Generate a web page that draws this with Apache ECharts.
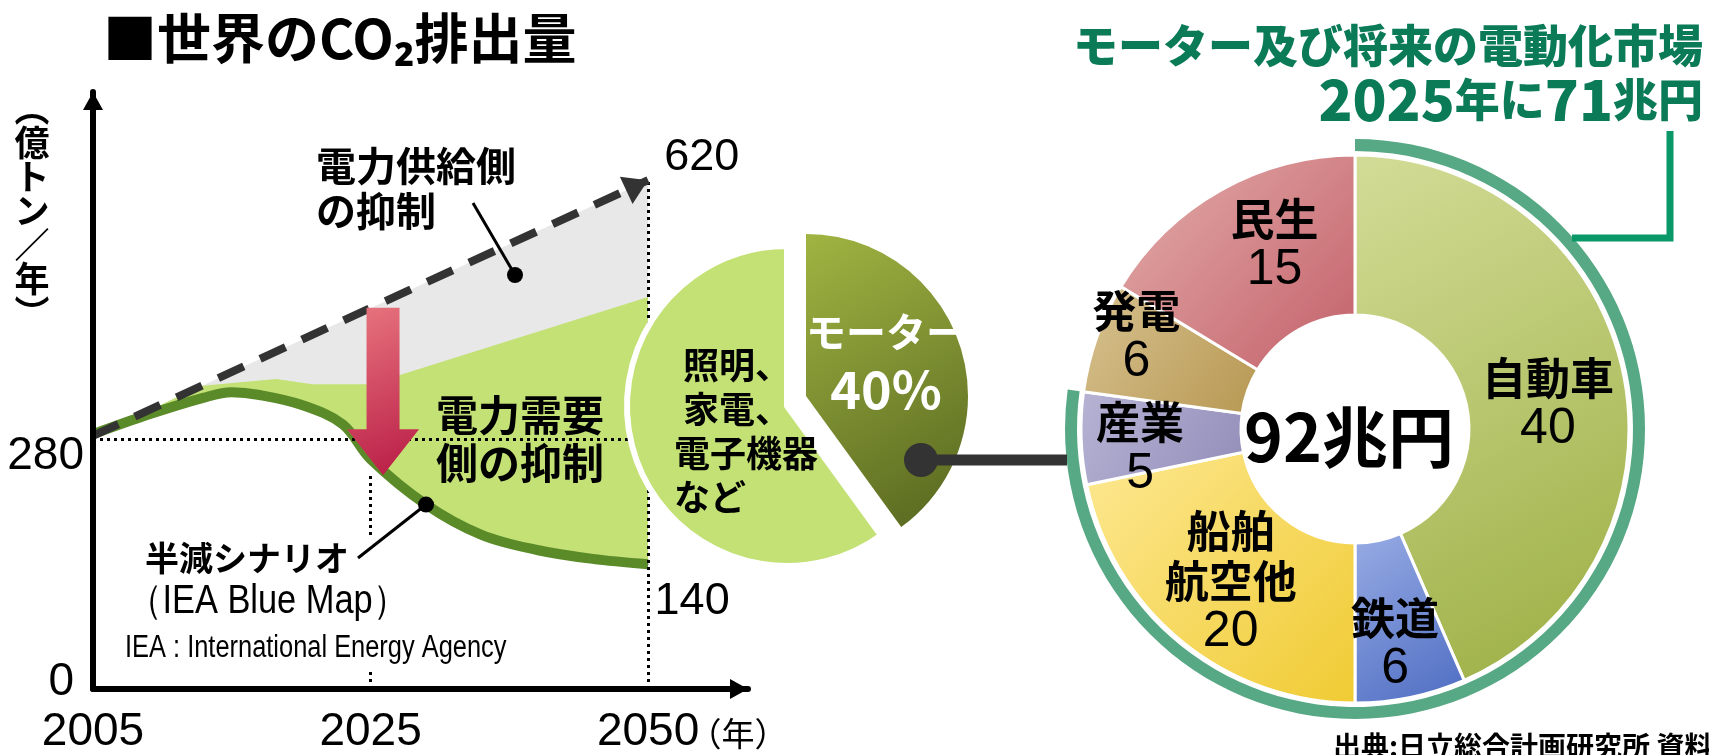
<!DOCTYPE html>
<html><head><meta charset="utf-8">
<script src="https://cdn.jsdelivr.net/npm/echarts@6/dist/echarts.min.js"></script>
<style>html,body{margin:0;padding:0;background:#fff}#c{width:1709px;height:755px}</style>
</head><body><div id="c"></div>
<script>
// ---------------- data ----------------
const yearLabels = ['2005', '2025', '2050'];
const yearPos = [0, 1, 2];                 // drawn with (almost) equal spacing in the source
const yTickValues = [0, 280];
// half-reduction scenario (IEA Blue Map)
const halfT = [0, 0.2, 0.4, 0.5, 0.6, 0.75, 0.9, 1.0, 1.2, 1.4, 1.6, 1.8, 2.0];
const halfV = [286, 308, 327, 333, 330, 319, 297, 258, 207, 173, 156, 146, 140];
// upper edge of demand-side reduction band
const demandT = [0, 0.2, 0.385, 0.66, 0.79, 1.0, 2.0];
const demandV = [286, 312, 340, 348, 342, 342, 440];
// business-as-usual trend (dashed)
const trendT = [0, 2.0];
const trendV = [284, 571];
const endValueLabels = ['620', '140'];
// red arrow (demand-side reduction) in data units
const arrowT = 1.045, arrowFromV = 428, arrowToV = 240;
// motor share pie
const shareNames = ['モーター', '照明、家電、電子機器など'];
const shareLines = ['照明、', '家電、', '電子機器', 'など'];
const shareValues = [40, 60];
// electrification market donut (兆円)
const marketNames = ['自動車', '鉄道', '船舶\n航空他', '産業', '発電', '民生'];
const marketValues = [40, 6, 20, 5, 6, 15];
const market2025 = [71, 21];
const marketTotalText = '92兆円';

// ---------------- styles ----------------
const LAT = "'Liberation Sans',Arial,sans-serif";
const JP = "'Noto Sans CJK JP','Noto Sans',sans-serif";
const grad = (a, b) => ({type:'linear', x:0, y:0, x2:1, y2:1, colorStops:[{offset:0, color:a}, {offset:1, color:b}]});
const marketColors = [['#d3dc97','#9bae42'], ['#98ace4','#4d6cc2'], ['#fde892','#f0cb33'], ['#b6b3d4','#928db9'], ['#d8c291','#b79852'], ['#e4aeaa','#c3606a']];
const marketLabelPad = [[30,0,0,0], [44,0,0,0], [0,0,0,0], [26,36,0,0], [0,66,52,0], [0,0,24,32]];
const CLEAR = 'rgba(0,0,0,0)';

const pairs = (ts, vs) => ts.map((t, i) => [t, vs[i]]);

const chart = echarts.init(document.getElementById('c'), null, {renderer:'canvas', width:1709, height:755});

const halfData = pairs(halfT, halfV).map((p, i, a) => i === a.length - 1 ? {
  value: p, symbol: 'circle', symbolSize: 1,
  label: {show: true, formatter: endValueLabels[1], position: 'right', distance: 6, offset: [0, 37],
          fontFamily: LAT, fontSize: 45, color: '#000'}
} : p);

const trendData = pairs(trendT, trendV).map((p, i, a) => i === a.length - 1 ? {
  value: p, symbol: 'triangle', symbolSize: [30, 24], symbolRotate: -65, symbolOffset: [-11, 5],
  label: {show: true, formatter: endValueLabels[0], position: 'right', distance: 10, offset: [0, -28],
          fontFamily: LAT, fontSize: 45, color: '#000'}
} : {value: p, symbol: 'none'});

const padTo = (s, n) => s + '　'.repeat(Math.max(0, n - s.length));
const shareText = shareLines.map(s => padTo(s, 4)).join('\n');

const option = {
  animation: false,
  textStyle: {fontFamily: JP},
  grid: {left: 93, right: 961, top: 92, bottom: 65},
  xAxis: {
    type: 'value', min: 0, max: 2.36, z: 10,
    axisLine: {show: true, lineStyle: {color: '#000', width: 6}, symbol: ['none', 'triangle'], symbolSize: [20, 18], symbolOffset: [0, -9]},
    axisTick: {show: false}, splitLine: {show: false},
    axisLabel: {customValues: yearPos, formatter: v => yearLabels[yearPos.indexOf(v)],
                fontFamily: LAT, fontSize: 46, lineHeight: 46, color: '#000', margin: 20}
  },
  yAxis: {
    type: 'value', min: 0, max: 670, z: 10,
    axisLine: {show: true, lineStyle: {color: '#000', width: 6}, symbol: ['none', 'triangle'], symbolSize: [20, 18], symbolOffset: [0, -9]},
    axisTick: {show: false}, splitLine: {show: false},
    axisLabel: {customValues: yTickValues, margin: 9,
      formatter: v => (v === 0 ? '{z|' : '{t|') + v + '}',
      rich: {
        z: {fontFamily: LAT, fontSize: 46, color: '#000', padding: [0, 10, 14, 0]},
        t: {fontFamily: LAT, fontSize: 46, color: '#000', padding: [34, 0, 0, 0]}
      }}
  },
  series: [
    { // gray: supply-side reduction band (down from trend)
      type: 'line', data: pairs(trendT, trendV), symbol: 'none', silent: true, z: 1,
      lineStyle: {width: 0}, areaStyle: {color: '#e8e8e8', opacity: 1},
      markLine: {
        silent: true, symbol: 'none', label: {show: false}, z: 5,
        lineStyle: {color: '#000', width: 3, type: [3, 4]},
        data: [
          [{coord: [yearPos[0], yTickValues[1]]}, {coord: [yearPos[2], yTickValues[1]]}],
          [{coord: [yearPos[1], 0]}, {coord: [yearPos[1], arrowToV]}],
          [{coord: [yearPos[2], 0]}, {coord: [yearPos[2], trendV[1]]}]
        ]
      }
    },
    { // light green: demand-side reduction band
      type: 'line', data: pairs(demandT, demandV), symbol: 'none', silent: true, z: 2,
      lineStyle: {width: 0}, areaStyle: {color: '#c3e174', opacity: 1}
    },
    { // half scenario
      type: 'line', data: halfData, symbol: 'none', smooth: 0.35, silent: true, z: 3,
      lineStyle: {color: '#5b8b29', width: 10}, areaStyle: {color: '#ffffff', opacity: 1}
    },
    { // BAU dashed trend
      type: 'line', data: trendData, silent: true, z: 6,
      lineStyle: {color: '#333', width: 8, type: [28, 18]}, itemStyle: {color: '#333'}
    },
    { // motor share pie – other uses (60 %)
      type: 'pie', center: [787, 406], radius: 160, startAngle: 90, clockwise: true,
      z: 8, silent: true, emphasis: {disabled: true}, labelLine: {show: false},
      label: {show: true, position: 'inside'},
      data: [
        {name: shareNames[0], value: shareValues[0], itemStyle: {color: CLEAR}, label: {show: false}},
        {name: shareNames[1], value: shareValues[1],
         itemStyle: {color: '#c3e174', borderColor: '#fff', borderWidth: 6},
         label: {formatter: shareText, color: '#000', fontFamily: JP, fontWeight: 'bold', fontSize: 36, lineHeight: 44,
                 padding: [0, 0, 0, 76]}}
      ]
    },
    { // motor share pie – motor slice, pulled out
      type: 'pie', center: [806, 396], radius: 162, startAngle: 90, clockwise: true,
      z: 8, silent: true, emphasis: {disabled: true}, labelLine: {show: false},
      label: {show: false},
      data: [
        {name: shareNames[0], value: shareValues[0], itemStyle: {color: grad('#a0b442', '#56661f')}},
        {name: shareNames[1], value: shareValues[1], itemStyle: {color: CLEAR}}
      ]
    },
    { // 2025 ring (71兆円)
      type: 'pie', center: [1355, 429], radius: [278, 290], startAngle: 90, z: 7, silent: true,
      emphasis: {disabled: true}, label: {show: false}, labelLine: {show: false},
      data: [{value: market2025[0], itemStyle: {color: '#57a884'}},
             {value: market2025[1], itemStyle: {color: CLEAR}}]
    },
    { // market donut
      type: 'pie', center: [1355, 429], radius: [114, 274], startAngle: 90, z: 8, silent: true,
      emphasis: {disabled: true}, labelLine: {show: false},
      label: {show: true, position: 'inside'},
      data: marketNames.map((n, i) => ({
        name: n, value: marketValues[i],
        itemStyle: {color: grad(marketColors[i][0], marketColors[i][1]), borderColor: '#fff', borderWidth: 3},
        label: {
          padding: marketLabelPad[i],
          formatter: n.split('\n').map(s => '{n|' + s + '}').join('\n') + '\n{v|' + marketValues[i] + '}',
          rich: {n: {fontFamily: JP, fontWeight: 'bold', fontSize: 44, color: '#000', lineHeight: 50},
                 v: {fontFamily: LAT, fontSize: 50, color: '#000', lineHeight: 52}}
        }
      }))
    }
  ]
};
chart.setOption(option);

// ---------------- annotations ----------------
const P = (t, v) => chart.convertToPixel({gridIndex: 0}, [t, v]);
const [ax, ay0] = P(arrowT, arrowFromV);
const ay1 = P(arrowT, arrowToV)[1];
const headTop = ay1 - 46, sw = 16.5, hw = 36;
const halfDot = P(halfT[8], halfV[8]);

const txt = (x, y, text, o, extra) => Object.assign({type: 'text', x, y, z: 100, silent: true,
  style: Object.assign({text, fill: '#000', verticalAlign: 'middle', align: 'left', fontFamily: JP}, o)}, extra || {});

chart.setOption({graphic: [
  txt(103, 38, '■世界のCO₂排出量', {fontSize: 54, fontWeight: 'bold'}),
  txt(32, 92, '︵\n億\nト\nン\n／\n年\n︶', {fontSize: 35, fontWeight: 'bold', lineHeight: 34, align: 'center', verticalAlign: 'top'}),
  txt(738, 733, '（年）', {fontSize: 33, align: 'center'}),
  txt(316, 188, '電力供給側\nの抑制', {fontSize: 40, fontWeight: 'bold', lineHeight: 45}),
  txt(436, 439, '電力需要\n側の抑制', {fontSize: 42, fontWeight: 'bold', lineHeight: 48}),
  {type: 'rect', z: 50, silent: true, shape: {x: 355, y: 535, width: 40, height: 133}, style: {fill: '#fff'}},
  txt(145, 558, '半減シナリオ', {fontSize: 34, fontWeight: 'bold'}),
  txt(128, 602, '（IEA Blue Map）', {fontSize: 40, fontFamily: LAT}, {scaleX: 0.86}),
  txt(125, 648, 'IEA : International Energy Agency', {fontSize: 31, fontFamily: LAT}, {scaleX: 0.82}),
  {type: 'line', z: 100, silent: true, shape: {x1: 473, y1: 203, x2: 515, y2: 275}, style: {stroke: '#000', lineWidth: 3}},
  {type: 'circle', z: 100, silent: true, shape: {cx: 515, cy: 275, r: 8}, style: {fill: '#000'}},
  {type: 'line', z: 100, silent: true, shape: {x1: 358, y1: 558, x2: halfDot[0], y2: halfDot[1]}, style: {stroke: '#000', lineWidth: 3}},
  {type: 'circle', z: 100, silent: true, shape: {cx: halfDot[0], cy: halfDot[1], r: 8}, style: {fill: '#000'}},
  {type: 'polygon', z: 90, silent: true, shape: {points: [
     [ax - sw, ay0], [ax + sw, ay0], [ax + sw, headTop], [ax + hw, headTop], [ax, ay1], [ax - hw, headTop], [ax - sw, headTop]]},
   style: {fill: grad('#e8767f', '#b81a44')}},
  // motor slice label
  txt(886, 361, '{mt|' + shareNames[0] + '}\n{mp|' + shareValues[0] + '%}', {align: 'center', rich: {
     mt: {fontFamily: JP, fontWeight: 'bold', fontSize: 40, fill: '#fff', lineHeight: 56, align: 'center'},
     mp: {fontFamily: JP, fontWeight: 'bold', fontSize: 52, fill: '#fff', lineHeight: 58, align: 'center'}}}),
  // connector motor -> market donut
  {type: 'line', z: 100, silent: true, shape: {x1: 921, y1: 460, x2: 1067, y2: 460}, style: {stroke: '#333', lineWidth: 11}},
  {type: 'circle', z: 100, silent: true, shape: {cx: 921, cy: 460, r: 17}, style: {fill: '#333'}},
  // right titles
  txt(1703, 46, 'モーター及び将来の電動化市場', {fontSize: 45, fontWeight: 900, fill: '#0b7a57', align: 'right'}),
  txt(1703, 100, '{d|2025}{c|年に}{d|71}{c|兆円}', {align: 'right', rich: {
     d: {fontSize: 56, fontWeight: 900, fill: '#0b7a57', fontFamily: JP, verticalAlign: 'middle'},
     c: {fontSize: 45, fontWeight: 900, fill: '#0b7a57', fontFamily: JP, verticalAlign: 'middle'}}}),
  {type: 'polyline', z: 100, silent: true, shape: {points: [[1670, 131], [1670, 238], [1572, 238]]}, style: {stroke: '#0a9868', lineWidth: 7, fill: null}},
  txt(1349, 437, marketTotalText, {fontSize: 66, fontWeight: 'bold', align: 'center'}),
  txt(1333, 746, '出典:日立総合計画研究所 資料', {fontSize: 28, fontWeight: 'bold'})
]});
</script></body></html>
